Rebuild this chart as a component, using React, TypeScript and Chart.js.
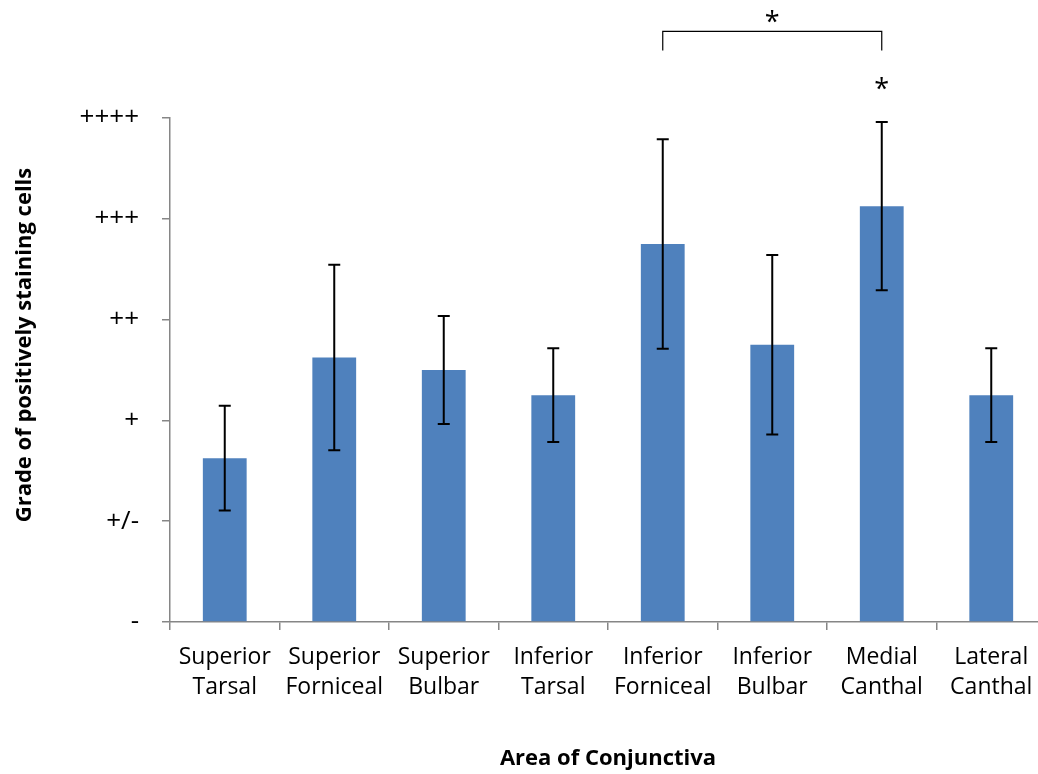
import { useEffect, useRef } from "react";
import { Chart, registerables } from "chart.js";

Chart.register(...registerables);

// Conjunctival regions (two-line category labels)
const categories: string[][] = [
  ["Superior", "Tarsal"],
  ["Superior", "Forniceal"],
  ["Superior", "Bulbar"],
  ["Inferior", "Tarsal"],
  ["Inferior", "Forniceal"],
  ["Inferior", "Bulbar"],
  ["Medial", "Canthal"],
  ["Lateral", "Canthal"],
];

// Mean staining grade per region and its error (symmetric)
const gradeMeans = [1.625, 2.625, 2.5, 2.25, 3.75, 2.75, 4.125, 2.25];
const gradeErrors = [0.52, 0.92, 0.535, 0.465, 1.04, 0.89, 0.835, 0.465];

// Grade scale labels for values 0..5
const gradeLabels = ["-", "+/-", "+", "++", "+++", "++++"];

// Significance marks: bracket between two regions, plus a star over one bar
const bracketRegions = [4, 6];
const bracketLevel = 5.86;
const bracketDrop = 0.19;
const bracketStarLevel = 5.99;
const starRegions = [6];
const starLevel = 5.32;

const FONT = "'Open Sans', sans-serif";
const BAR_COLOR = "#4F81BD";
const AXIS_COLOR = "#868686";

const errorBarsPlugin = {
  id: "errorBars",
  afterDatasetsDraw(chart: any) {
    const { ctx, scales } = chart;
    const x = scales.x;
    const y = scales.y;
    const cap = 6;
    ctx.save();
    ctx.strokeStyle = "#000";
    ctx.lineWidth = 2;
    gradeMeans.forEach((m, i) => {
      const px = x.getPixelForValue(i);
      const top = y.getPixelForValue(m + gradeErrors[i]);
      const bot = y.getPixelForValue(m - gradeErrors[i]);
      ctx.beginPath();
      ctx.moveTo(px, top);
      ctx.lineTo(px, bot);
      ctx.moveTo(px - cap, top);
      ctx.lineTo(px + cap, top);
      ctx.moveTo(px - cap, bot);
      ctx.lineTo(px + cap, bot);
      ctx.stroke();
    });
    ctx.restore();
  },
};

const annotationsPlugin = {
  id: "annotations",
  afterDraw(chart: any) {
    const { ctx, scales, chartArea } = chart;
    const x = scales.x;
    const y = scales.y;
    ctx.save();

    // bracket between the two compared regions
    const x1 = x.getPixelForValue(bracketRegions[0]);
    const x2 = x.getPixelForValue(bracketRegions[1]);
    const yTop = y.getPixelForValue(bracketLevel);
    const yBot = y.getPixelForValue(bracketLevel - bracketDrop);
    ctx.strokeStyle = "#000";
    ctx.lineWidth = 1.2;
    ctx.beginPath();
    ctx.moveTo(x1, yBot);
    ctx.lineTo(x1, yTop);
    ctx.lineTo(x2, yTop);
    ctx.lineTo(x2, yBot);
    ctx.stroke();

    ctx.fillStyle = "#000";
    ctx.font = `27px ${FONT}`;
    ctx.textAlign = "center";
    ctx.textBaseline = "middle";
    ctx.fillText("*", (x1 + x2) / 2, y.getPixelForValue(bracketStarLevel) + 5);
    starRegions.forEach((i) => {
      ctx.fillText("*", x.getPixelForValue(i), y.getPixelForValue(starLevel) + 5);
    });

    // axis titles
    ctx.font = `bold 22px ${FONT}`;
    ctx.fillText("Area of Conjunctiva", (chartArea.left + chartArea.right) / 2, 759);
    ctx.translate(25, 345);
    ctx.rotate(-Math.PI / 2);
    ctx.fillText("Grade of positively staining cells", 0, 0);
    ctx.restore();
  },
};

export default function App() {
  const canvasRef = useRef<HTMLCanvasElement | null>(null);

  useEffect(() => {
    const canvas = canvasRef.current;
    if (!canvas) return;
    const chart = new Chart(canvas, {
      type: "bar",
      data: {
        labels: categories,
        datasets: [
          {
            data: gradeMeans,
            backgroundColor: BAR_COLOR,
            borderWidth: 0,
            barPercentage: 0.4,
            categoryPercentage: 1,
          },
        ],
      },
      options: {
        responsive: false,
        animation: false,
        devicePixelRatio: 1,
        layout: { padding: { top: 118, right: 14, left: 0, bottom: 0 } },
        plugins: {
          legend: { display: false },
          tooltip: { enabled: false },
          title: { display: false },
        },
        scales: {
          x: {
            afterFit(scale: any) {
              scale.height = 152;
            },
            grid: {
              display: true,
              offset: true,
              drawOnChartArea: false,
              drawTicks: true,
              tickLength: 8,
              color: AXIS_COLOR,
              lineWidth: 1.5,
            },
            border: { display: true, color: AXIS_COLOR, width: 1.5 },
            ticks: {
              color: "#000",
              font: { family: FONT, size: 23, lineHeight: 1.3 },
              padding: 13,
              maxRotation: 0,
              autoSkip: false,
            },
          },
          y: {
            min: 0,
            max: 5,
            afterFit(scale: any) {
              scale.width = 170;
            },
            grid: {
              display: true,
              drawOnChartArea: false,
              drawTicks: true,
              tickLength: 8,
              color: AXIS_COLOR,
              lineWidth: 1.5,
            },
            border: { display: true, color: AXIS_COLOR, width: 1.5 },
            ticks: {
              stepSize: 1,
              color: "#000",
              font: { family: FONT, size: 26 },
              padding: 23,
              callback: (v: any) => gradeLabels[Number(v)] ?? "",
            },
          },
        },
      },
      plugins: [errorBarsPlugin, annotationsPlugin],
    });
    return () => chart.destroy();
  }, []);

  return (
    <div
      style={{
        position: "fixed",
        left: 0,
        top: 0,
        width: 1038,
        height: 774,
        overflow: "hidden",
        background: "#fff",
      }}
    >
      <canvas
        ref={canvasRef}
        width={1060}
        height={774}
        style={{ display: "block", width: 1060, height: 774 }}
      />
    </div>
  );
}
